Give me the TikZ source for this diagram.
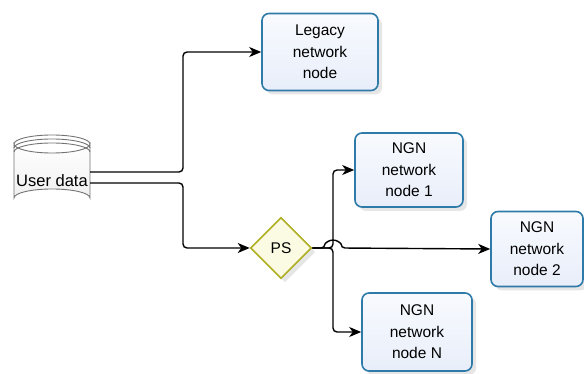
\documentclass[tikz,border=0pt]{standalone}
\usepackage{fontspec}
\setmainfont{Liberation Sans}
\usetikzlibrary{shapes.geometric,shadows,arrows.meta,calc}

\definecolor{boxline}{HTML}{2E7AA8}
\definecolor{boxfill}{HTML}{E8EEFA}
\definecolor{psline}{HTML}{AEAE22}
\definecolor{psfill}{HTML}{FBFBE4}

\newcommand\netfont{\fontsize{15.5}{21.5}\selectfont}

\tikzset{
  netnode/.style={draw=boxline, line width=1.6pt, top color=white!70!boxfill, bottom color=boxfill,
    rounded corners=7pt, align=center, inner sep=0pt, font=\netfont,
    drop shadow={opacity=0.2, shadow xshift=4pt, shadow yshift=-4pt}},
  gate/.style={diamond, draw=psline, line width=1.6pt, fill=psfill, aspect=1,
    minimum size=61pt, inner sep=0pt, font=\netfont,
    drop shadow={opacity=0.2, shadow xshift=4pt, shadow yshift=-4pt}},
  conn/.style={line width=1.4pt, rounded corners=4pt,
    -{Stealth[length=12pt,width=10pt,inset=3.5pt]}}
}

\begin{document}
\begin{tikzpicture}[x=1pt,y=-1pt]
\useasboundingbox (0,0) rectangle (584,374);

% data store
\shade[top color=white, bottom color=gray!12]
  (14,144) -- (14,198) arc[start angle=180, end angle=360, x radius=38, y radius=9]
  -- (90,144) arc[start angle=0, end angle=180, x radius=38, y radius=9] -- cycle;
\draw[gray!90!black, line width=0.9pt]
  (14,144) -- (14,198) arc[start angle=180, end angle=360, x radius=38, y radius=9]
  -- (90,144) arc[start angle=0, end angle=180, x radius=38, y radius=9] -- cycle;
\draw[gray!90!black, line width=0.9pt] (14,144) arc[start angle=180, end angle=360, x radius=38, y radius=9];
\draw[gray!90!black, line width=0.9pt] (14,148) arc[start angle=180, end angle=360, x radius=38, y radius=9];
\draw[gray!90!black, line width=0.9pt] (14,152) arc[start angle=180, end angle=360, x radius=38, y radius=9];
\node (ud) at (52,181) [font=\fontsize{16.5}{20}\selectfont] {User data};
\coordinate (ud1) at (90,172);
\coordinate (ud2) at (90,183);

\node (legacy) at (320,52) [netnode, minimum width=116pt, minimum height=77pt] {Legacy\\network\\node};
\node (ps) at (281,248) [gate] {PS};
\node (ngn1) at (409,170) [netnode, minimum width=108pt, minimum height=74pt] {NGN\\network\\node 1};
\node (ngn2) at (537,249) [netnode, minimum width=92pt, minimum height=75pt] {NGN\\network\\node 2};
\node (ngnN) at (417,332) [netnode, minimum width=110pt, minimum height=78pt] {NGN\\network\\node N};

\coordinate (jn) at (333,248);

\draw[conn] (ud1) -| (183,52) -- (legacy.west);
\draw[conn] (ud2) -| (183,248) -- (ps.west);
\draw[conn] (ps.east) -- (jn) |- (ngn1.west);
\draw[conn] (ps.east) -- (jn) |- (ngnN.west);
\draw[conn] (ps.east) -- (325,248) arc[start angle=180, end angle=360, radius=8] -- (ngn2.west);

\end{tikzpicture}
\end{document}
